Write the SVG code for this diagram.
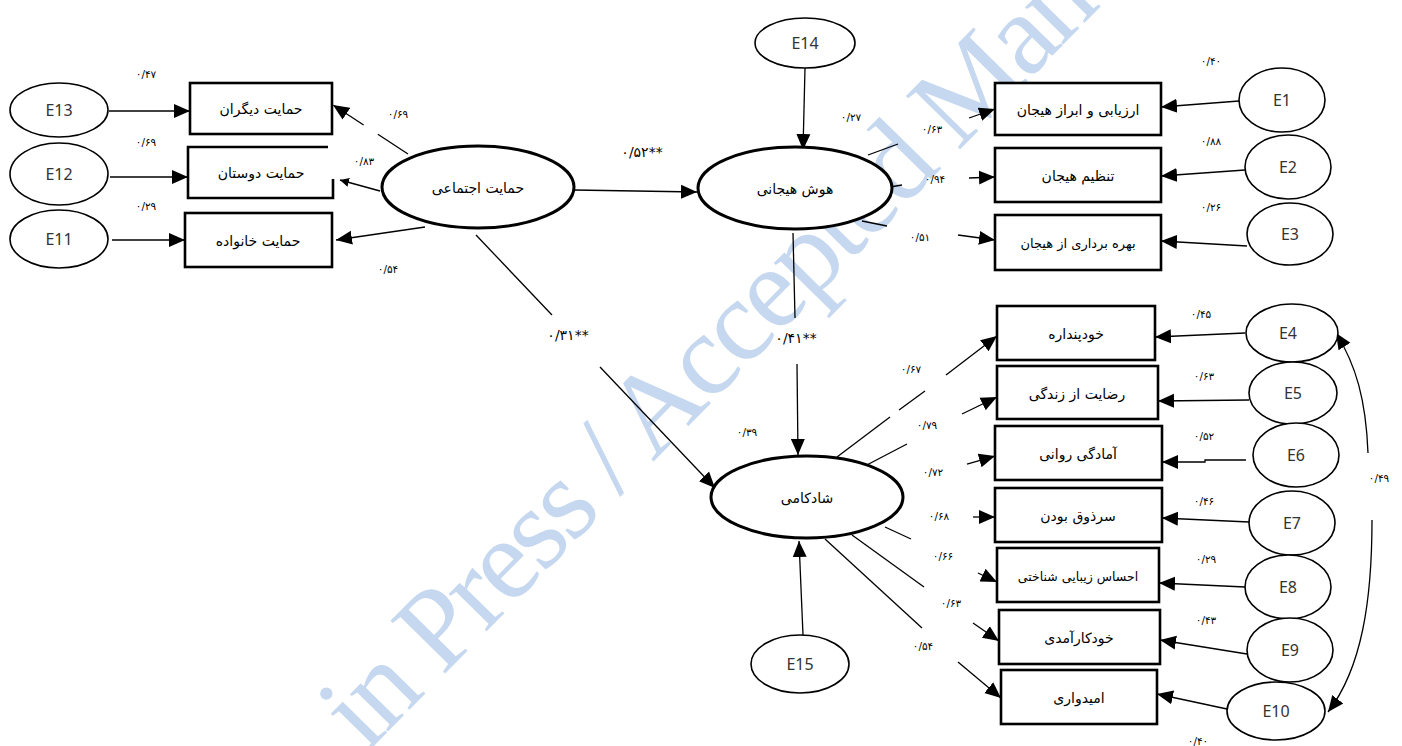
<svg xmlns="http://www.w3.org/2000/svg" width="1402" height="746" viewBox="0 0 1402 746">
  <style>
    .bg { fill: #ffffff; }
    .wm { font-family: "Liberation Serif", "DejaVu Serif", serif; font-size: 116px; fill: #c6d8ef; }
    .err { fill: #ffffff; stroke: #000000; stroke-width: 1.6; }
    .lat { fill: #ffffff; stroke: #000000; stroke-width: 3; }
    .box { fill: #ffffff; stroke: #000000; stroke-width: 2.6; }
    .etx { font-family: "Noto Sans", "Open Sans", sans-serif; font-size: 16px; fill: #333333; text-anchor: middle; }
    .fa { font-family: "DejaVu Sans", sans-serif; font-size: 14px; fill: #000000; text-anchor: middle; }
    .num { font-family: "DejaVu Sans", sans-serif; font-size: 10.5px; fill: #000000; text-anchor: middle; }
    .big { font-family: "DejaVu Sans", sans-serif; font-size: 14px; letter-spacing: 1.8px; fill: #000000; text-anchor: middle; }
    .ln { fill: none; stroke: #000000; stroke-width: 1.3; }
    .dash { stroke-dasharray: 36 17; }
  </style>
  <defs>
    <marker id="ah" markerUnits="userSpaceOnUse" markerWidth="16" markerHeight="16" viewBox="0 0 16 16" refX="16" refY="8" orient="auto">
      <path d="M0,1 L16,8 L0,15 z" fill="#000000"/>
    </marker>
    <marker id="ahs" markerUnits="userSpaceOnUse" markerWidth="9" markerHeight="9" viewBox="0 0 9 9" refX="9" refY="4.5" orient="auto">
      <path d="M0,0 L9,4.5 L0,9 z" fill="#000000"/>
    </marker>
  </defs>

  <rect class="bg" x="0" y="0" width="1402" height="746"/>

  <!-- background stamp -->
  <text class="wm" x="366" y="754" transform="rotate(-45.5 366 754)" textLength="1050" lengthAdjust="spacing">in Press / Accepted Man</text>

  <!-- connectors -->
  <g id="connectors">
    <!-- error terms of social support indicators -->
    <path class="ln" d="M109,111 L190,111" marker-end="url(#ah)"/>
    <path class="ln" d="M110,177 L188,177" marker-end="url(#ah)"/>
    <path class="ln" d="M112,240 L185,240" marker-end="url(#ah)"/>
    <!-- social support loadings -->
    <path class="ln dash" d="M408,154 L333,105" marker-end="url(#ah)"/>
    <path class="ln" d="M380,191 L340,180" marker-end="url(#ahs)"/>
    <path class="ln" d="M425,227 L336,240" marker-end="url(#ah)"/>
    <!-- structural paths -->
    <path class="ln" d="M574,190 L697,192" marker-end="url(#ah)"/>
    <path class="ln" d="M476,235 L552,315"/>
    <path class="ln" d="M600,367 L715,488" marker-end="url(#ah)"/>
    <path class="ln" d="M805,68 L803,150" marker-end="url(#ah)"/>
    <path class="ln" d="M793,233 L795,318"/>
    <path class="ln" d="M797,364 L798,455" marker-end="url(#ah)"/>
    <path class="ln" d="M803,635 L799,541" marker-end="url(#ah)"/>
    <!-- emotional intelligence loadings -->
    <path class="ln" d="M868,155 L898,144"/>
    <path class="ln" d="M969,118 L995,109" marker-end="url(#ah)"/>
    <path class="ln" d="M890,187 L902,185"/>
    <path class="ln" d="M969,178 L995,177" marker-end="url(#ah)"/>
    <path class="ln" d="M862,221 L887,226"/>
    <path class="ln" d="M958,235 L995,240" marker-end="url(#ah)"/>
    <!-- E1..E3 -->
    <path class="ln" d="M1239,101 L1161,107" marker-end="url(#ah)"/>
    <path class="ln" d="M1245,170 L1161,176" marker-end="url(#ah)"/>
    <path class="ln" d="M1247,246 L1161,241" marker-end="url(#ah)"/>
    <!-- happiness loadings -->
    <path class="ln" d="M837,457 L890,417"/>
    <path class="ln" d="M899,410 L925,391"/>
    <path class="ln" d="M946,375 L997,336" marker-end="url(#ah)"/>
    <path class="ln" d="M863,467 L907,444"/>
    <path class="ln" d="M962,414 L997,397" marker-end="url(#ah)"/>
    <path class="ln" d="M967,464 L995,456" marker-end="url(#ah)"/>
    <path class="ln" d="M973,517 L995,517" marker-end="url(#ah)"/>
    <path class="ln" d="M885,527 L911,539"/>
    <path class="ln" d="M978,573 L997,582" marker-end="url(#ah)"/>
    <path class="ln" d="M852,535 L924,587"/>
    <path class="ln" d="M973,623 L999,641" marker-end="url(#ah)"/>
    <path class="ln" d="M825,539 L922,628"/>
    <path class="ln" d="M958,662 L1001,698" marker-end="url(#ah)"/>
    <!-- E4..E10 -->
    <path class="ln" d="M1245,333 L1155,337" marker-end="url(#ah)"/>
    <path class="ln" d="M1249,400 L1158,401" marker-end="url(#ah)"/>
    <path class="ln" d="M1246,460 L1205,460 L1205,462 L1162,462" marker-end="url(#ah)"/>
    <path class="ln" d="M1249,522 L1162,518" marker-end="url(#ah)"/>
    <path class="ln" d="M1245,587 L1159,583" marker-end="url(#ah)"/>
    <path class="ln" d="M1247,654 L1160,640" marker-end="url(#ah)"/>
    <path class="ln" d="M1227,709 L1157,694" marker-end="url(#ah)"/>
    <!-- covariance E4 - E10 -->
    <path class="ln" d="M1368,453 C1366,400 1356,365 1336,333" marker-end="url(#ah)"/>
    <path class="ln" d="M1372,520 C1372,600 1362,668 1328,712" marker-end="url(#ah)"/>
  </g>

  <!-- coefficient labels -->
  <g id="coefficients">
    <text class="num" x="146" y="78">۰/۴۷</text>
    <text class="num" x="146" y="146">۰/۶۹</text>
    <text class="num" x="146" y="210">۰/۲۹</text>
    <text class="num" x="398" y="118">۰/۶۹</text>
    <text class="num" x="364" y="165">۰/۸۳</text>
    <text class="num" x="388" y="273">۰/۵۴</text>
    <text class="big" x="642" y="157">۰/۵۲**</text>
    <text class="big" x="568" y="340">۰/۳۱**</text>
    <text class="big" x="796" y="343">۰/۴۱**</text>
    <text class="num" x="851" y="121">۰/۲۷</text>
    <text class="num" x="932" y="133">۰/۶۳</text>
    <text class="num" x="935" y="183">۰/۹۴</text>
    <text class="num" x="920" y="241">۰/۵۱</text>
    <text class="num" x="1211" y="65">۰/۴۰</text>
    <text class="num" x="1211" y="145">۰/۸۸</text>
    <text class="num" x="1211" y="211">۰/۲۶</text>
    <text class="num" x="911" y="373">۰/۶۷</text>
    <text class="num" x="927" y="429">۰/۷۹</text>
    <text class="num" x="933" y="476">۰/۷۲</text>
    <text class="num" x="939" y="520">۰/۶۸</text>
    <text class="num" x="943" y="560">۰/۶۶</text>
    <text class="num" x="951" y="607">۰/۶۳</text>
    <text class="num" x="923" y="650">۰/۵۴</text>
    <text class="num" x="747" y="436">۰/۳۹</text>
    <text class="num" x="1201" y="318">۰/۴۵</text>
    <text class="num" x="1204" y="380">۰/۶۳</text>
    <text class="num" x="1204" y="440">۰/۵۲</text>
    <text class="num" x="1204" y="505">۰/۴۶</text>
    <text class="num" x="1206" y="563">۰/۲۹</text>
    <text class="num" x="1206" y="624">۰/۴۳</text>
    <text class="num" x="1198" y="745">۰/۴۰</text>
    <text class="num" x="1379" y="482">۰/۴۹</text>
  </g>

  <!-- social support block -->
  <g id="E13"><ellipse class="err" cx="59" cy="110" rx="49" ry="27"/><text class="etx" x="59" y="116">E13</text></g>
  <g id="E12"><ellipse class="err" cx="59" cy="174" rx="49" ry="31"/><text class="etx" x="59" y="180">E12</text></g>
  <g id="E11"><ellipse class="err" cx="59" cy="239" rx="49" ry="29"/><text class="etx" x="59" y="245">E11</text></g>
  <g id="others"><rect class="box" x="190" y="83" width="142" height="51"/><text class="fa" x="261" y="114">حمایت دیگران</text></g>
  <g id="friends">
    <path class="box" d="M328,147 L188,147 L188,198 L333,198 L333,179"/>
    <text class="fa" x="261" y="178">حمایت دوستان</text>
  </g>
  <g id="family"><rect class="box" x="185" y="213" width="147" height="54"/><text class="fa" x="258" y="246">حمایت خانواده</text></g>
  <g id="social-support"><ellipse class="lat" cx="478" cy="187" rx="96" ry="41"/><text class="fa" x="478" y="193">حمایت اجتماعی</text></g>

  <!-- emotional intelligence block -->
  <g id="E14"><ellipse class="err" cx="805" cy="43" rx="50" ry="25"/><text class="etx" x="805" y="49">E14</text></g>
  <g id="emotional-intelligence"><ellipse class="lat" cx="795" cy="188" rx="97" ry="41"/><text class="fa" x="795" y="194">هوش هیجانی</text></g>
  <g id="appraisal"><rect class="box" x="995" y="83" width="166" height="52"/><text class="fa" x="1078" y="115">ارزیابی و ابراز هیجان</text></g>
  <g id="regulation"><rect class="box" x="995" y="148" width="166" height="54"/><text class="fa" x="1078" y="181">تنظیم هیجان</text></g>
  <g id="utilization"><rect class="box" x="995" y="215" width="166" height="55"/><text class="fa" x="1078" y="248" style="font-size:13px">بهره برداری از هیجان</text></g>
  <g id="E1"><ellipse class="err" cx="1282" cy="100" rx="43" ry="32"/><text class="etx" x="1282" y="106">E1</text></g>
  <g id="E2"><ellipse class="err" cx="1288" cy="167" rx="43" ry="32"/><text class="etx" x="1288" y="173">E2</text></g>
  <g id="E3"><ellipse class="err" cx="1290" cy="234" rx="43" ry="31"/><text class="etx" x="1290" y="240">E3</text></g>

  <!-- happiness block -->
  <g id="happiness"><ellipse class="lat" cx="807" cy="497" rx="96" ry="41"/><text class="fa" x="807" y="503">شادکامی</text></g>
  <g id="E15"><ellipse class="err" cx="800" cy="664" rx="49" ry="29"/><text class="etx" x="800" y="670">E15</text></g>
  <g id="self-concept"><rect class="box" x="997" y="306" width="158" height="54"/><text class="fa" x="1076" y="339">خودپنداره</text></g>
  <g id="life-satisfaction"><rect class="box" x="997" y="366" width="161" height="53"/><text class="fa" x="1077" y="399">رضایت از زندگی</text></g>
  <g id="mental-alertness"><rect class="box" x="995" y="426" width="167" height="54"/><text class="fa" x="1078" y="459">آمادگی روانی</text></g>
  <g id="cheerfulness"><rect class="box" x="995" y="488" width="167" height="54"/><text class="fa" x="1078" y="521">سرذوق بودن</text></g>
  <g id="aesthetic-sense"><rect class="box" x="997" y="548" width="162" height="54"/><text class="fa" x="1078" y="581" style="font-size:12.5px">احساس زیبایی شناختی</text></g>
  <g id="self-efficacy"><rect class="box" x="999" y="610" width="161" height="54"/><text class="fa" x="1079" y="643">خودکارآمدی</text></g>
  <g id="hope"><rect class="box" x="1001" y="670" width="156" height="54"/><text class="fa" x="1079" y="703">امیدواری</text></g>
  <g id="E4"><ellipse class="err" cx="1292" cy="333" rx="46" ry="29"/><text class="etx" x="1288" y="339">E4</text></g>
  <g id="E5"><ellipse class="err" cx="1293" cy="393" rx="44" ry="31"/><text class="etx" x="1293" y="399">E5</text></g>
  <g id="E6"><ellipse class="err" cx="1296" cy="455" rx="43" ry="32"/><text class="etx" x="1296" y="461">E6</text></g>
  <g id="E7"><ellipse class="err" cx="1292" cy="523" rx="43" ry="32"/><text class="etx" x="1292" y="529">E7</text></g>
  <g id="E8"><ellipse class="err" cx="1288" cy="587" rx="43" ry="32"/><text class="etx" x="1288" y="593">E8</text></g>
  <g id="E9"><ellipse class="err" cx="1290" cy="650" rx="43" ry="32"/><text class="etx" x="1290" y="656">E9</text></g>
  <g id="E10"><ellipse class="err" cx="1276" cy="711" rx="49" ry="29"/><text class="etx" x="1276" y="717">E10</text></g>
</svg>
